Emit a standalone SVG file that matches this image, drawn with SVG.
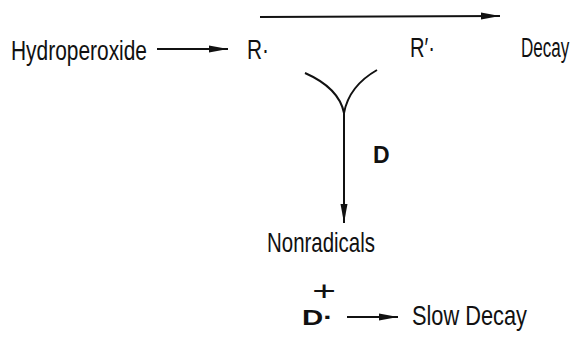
<svg xmlns="http://www.w3.org/2000/svg" width="575" height="352" viewBox="0 0 575 352">
<style>
.t{font-family:"Liberation Sans",Arial,sans-serif;font-size:28px;fill:#111}
.b{font-family:"Liberation Sans",Arial,sans-serif;font-weight:bold;fill:#111}
.ln{stroke:#111;stroke-width:2;fill:none}
</style>
<defs>
<marker id="ah" markerWidth="20" markerHeight="10" refX="19" refY="4" orient="auto" markerUnits="userSpaceOnUse">
<path d="M0,0.5 L19,4 L0,7.5 Z" fill="#111"/>
</marker>
</defs>
<rect width="575" height="352" fill="#fff"/>
<g id="connectors">
<line class="ln" x1="157" y1="49" x2="228" y2="49" marker-end="url(#ah)"/>
<line class="ln" x1="260" y1="17" x2="500" y2="16" marker-end="url(#ah)"/>
<path class="ln" d="M305,73 Q339,88 344,113"/>
<path class="ln" d="M377,70 Q349,86 344,113"/>
<line class="ln" x1="344" y1="113" x2="344" y2="223" marker-end="url(#ah)"/>
<line class="ln" x1="347" y1="317" x2="398" y2="317" marker-end="url(#ah)"/>
</g>
<g id="hydroperoxide"><text class="t" x="11" y="60" textLength="136" lengthAdjust="spacingAndGlyphs">Hydroperoxide</text></g>
<g id="R"><text class="t" x="247" y="59" textLength="22" lengthAdjust="spacingAndGlyphs">R·</text></g>
<g id="Rprime"><text class="t" x="410" y="57" textLength="25" lengthAdjust="spacingAndGlyphs">R′·</text></g>
<g id="decay"><text class="t" transform="translate(521,57) scale(0.61,1)">Decay</text></g>
<g id="Dlabel"><text class="b" x="373" y="163" font-size="23">D</text></g>
<g id="nonradicals"><text class="t" x="267" y="252" textLength="108" lengthAdjust="spacingAndGlyphs">Nonradicals</text></g>
<g id="plus"><text class="t" font-size="31" text-anchor="middle" transform="translate(324,300) scale(1.45,1)">+</text></g>
<g id="Ddot"><text class="b" x="302" y="325" font-size="22" textLength="31" lengthAdjust="spacingAndGlyphs">D·</text></g>
<g id="slowdecay"><text class="t" x="412" y="325" textLength="115" lengthAdjust="spacingAndGlyphs">Slow Decay</text></g>
</svg>
